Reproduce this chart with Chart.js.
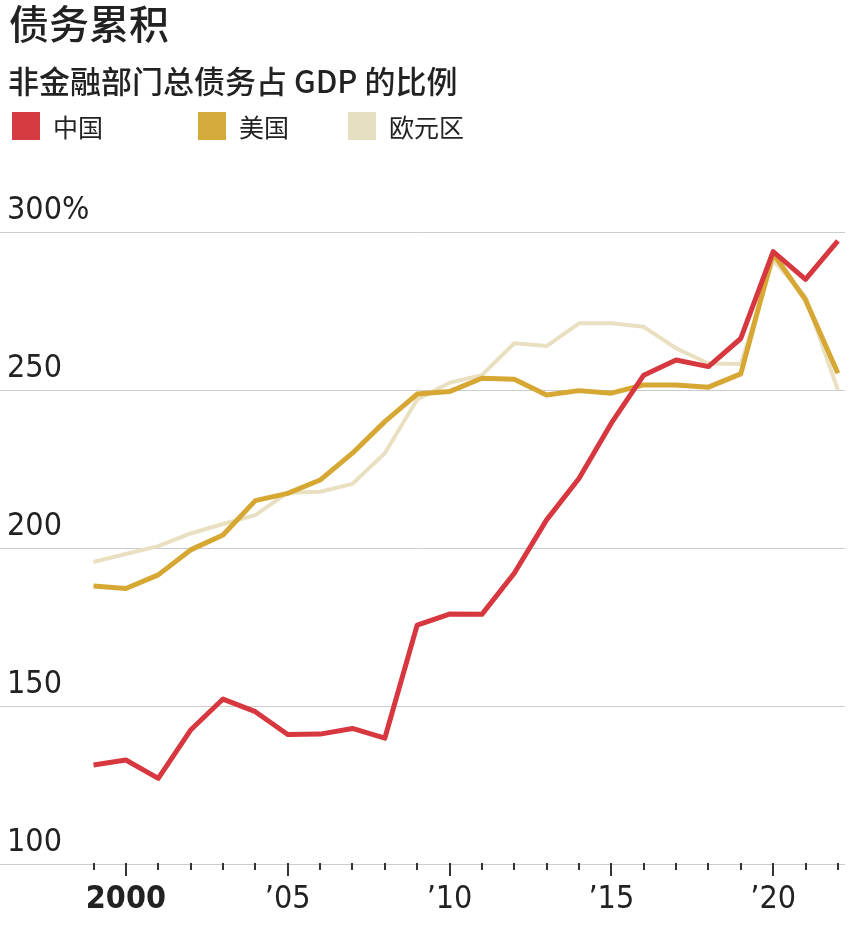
<!DOCTYPE html>
<html>
<head>
<meta charset="utf-8">
<script src="https://cdn.jsdelivr.net/npm/chart.js@4"></script>
<style>
  body { margin: 0; background: #fff; }
  #wrap { position: relative; width: 860px; height: 929px; overflow: hidden; }
  #debtChart { position: absolute; left: 0; top: 0; }
  .title { position: absolute; left: 9px; top: 2px; font: 500 40px/1 'Noto Sans CJK SC', sans-serif; color: #222; white-space: nowrap; }
  .subtitle { position: absolute; left: 8px; top: 64px; font: 500 31px/1 'Noto Sans CJK SC', sans-serif; color: #222; white-space: nowrap; }
  .legend { position: absolute; top: 112px; font: 25px/28px 'Noto Sans CJK SC', sans-serif; color: #222; white-space: nowrap; }
  .legend span.box { display: inline-block; width: 28px; height: 28px; vertical-align: top; margin-right: 13px; }
</style>
</head>
<body>
<div id="wrap">
  <canvas id="debtChart" width="860" height="929"></canvas>
  <div class="title">债务累积</div>
  <div class="subtitle">非金融部门总债务占 GDP 的比例</div>
  <div class="legend" style="left:12px"><span class="box" style="background:#d63b41"></span>中国</div>
  <div class="legend" style="left:198px"><span class="box" style="background:#d4aa3c"></span>美国</div>
  <div class="legend" style="left:348px"><span class="box" style="background:#e7dfc1"></span>欧元区</div>
</div>
<script>
// values, % of GDP
const years = [1999, 2000, 2001, 2002, 2003, 2004, 2005, 2006, 2007, 2008, 2009, 2010,
               2011, 2012, 2013, 2014, 2015, 2016, 2017, 2018, 2019, 2020, 2021, 2022];
const china = [131.3, 132.9, 127.1, 142.4, 152.2, 148.2, 141.0, 141.1, 142.9, 139.8, 175.6, 179.1,
               179.0, 192.0, 208.9, 222.0, 239.5, 254.7, 259.5, 257.4, 266.3, 293.8, 285.0, 297.2];
const us = [188.0, 187.2, 191.5, 199.4, 204.1, 215.0, 217.3, 221.5, 230.0, 240.0, 248.7, 249.5,
            253.7, 253.4, 248.4, 249.8, 249.0, 251.6, 251.6, 250.9, 255.1, 293.2, 278.5, 255.3];
const euro = [195.6, 198.1, 200.6, 204.6, 207.6, 210.4, 217.5, 217.8, 220.3, 230.0, 247.0, 252.3,
              254.7, 264.8, 263.9, 271.1, 271.1, 270.0, 263.2, 258.4, 258.2, 291.1, 279.5, 250.0];
const yTicks = [100, 150, 200, 250, 300];

const narrow = "'Liberation Sans Narrow', 'DejaVu Sans Condensed', 'Liberation Sans', sans-serif";

function toPoints(arr) {
    return arr.map((v, i) => ({ x: years[i], y: v }));
}

// year tick marks under the axis, longer every five years
const yearTicks = {
    id: 'yearTicks',
    afterDraw(chart) {
        const c = chart.ctx;
        const xs = chart.scales.x;
        const base = chart.scales.y.getPixelForValue(100);
        c.save();
        c.strokeStyle = '#333';
        c.lineWidth = 2;
        years.forEach(yr => {
            const px = Math.round(xs.getPixelForValue(yr));
            c.beginPath();
            c.moveTo(px, base - 1);
            c.lineTo(px, base + (yr % 5 === 0 ? 12 : 6));
            c.stroke();
        });
        c.restore();
    }
};

const ctx = document.getElementById('debtChart').getContext('2d');
const debtChart = new Chart(ctx, {
    type: 'line',
    data: {
        datasets: [
            { label: '中国', data: toPoints(china), borderColor: '#d7373f', borderWidth: 5 },
            { label: '美国', data: toPoints(us), borderColor: '#d6a833', borderWidth: 5 },
            { label: '欧元区', data: toPoints(euro), borderColor: '#e9dfc1', borderWidth: 4 }
        ]
    },
    options: {
        responsive: false,
        animation: false,
        layout: { padding: { top: 232, left: 0, right: 15, bottom: 0 } },
        elements: {
            point: { radius: 0 },
            line: { tension: 0, borderJoinStyle: 'round', borderCapStyle: 'butt' }
        },
        plugins: { legend: { display: false }, tooltip: { enabled: false } },
        scales: {
            x: {
                type: 'linear',
                min: 1996.11,
                max: 2022.22,
                afterBuildTicks: scale => { scale.ticks = years.map(v => ({ value: v })); },
                afterFit: scale => { scale.height = 65; },
                grid: { display: true, drawOnChartArea: false, drawTicks: false, color: 'transparent' },
                border: { display: false },
                ticks: {
                    autoSkip: false,
                    maxRotation: 0,
                    padding: 16,
                    color: '#222',
                    font: c => ({ family: narrow, size: 32, weight: c.tick && c.tick.value === 2000 ? 'bold' : 'normal' }),
                    callback: v => v === 2000 ? '2000' : (v % 5 === 0 ? '\u2019' + String(v).slice(2) : '')
                }
            },
            y: {
                min: 100,
                max: 300,
                afterBuildTicks: scale => { scale.ticks = yTicks.map(v => ({ value: v })); },
                afterFit: scale => { scale.width = 0; },
                grid: { color: '#cccccc', lineWidth: 1, drawTicks: false },
                border: { display: false },
                ticks: {
                    mirror: true,
                    padding: 7,
                    labelOffset: -21,
                    color: '#222',
                    font: { family: narrow, size: 32 },
                    callback: v => v === 300 ? '300%' : String(v)
                }
            }
        }
    },
    plugins: [yearTicks]
});
</script>
</body>
</html>
